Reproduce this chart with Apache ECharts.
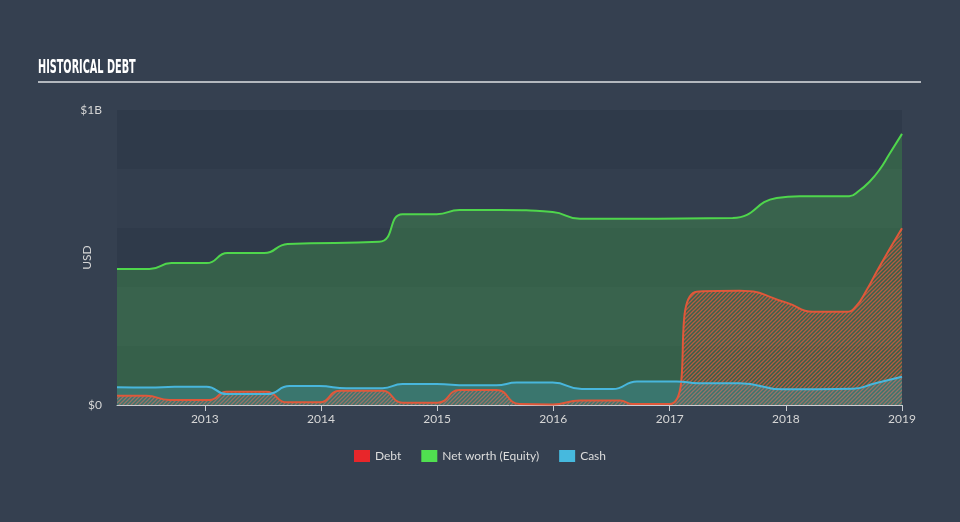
<!DOCTYPE html>
<html><head><meta charset="utf-8">
<script src="https://cdn.jsdelivr.net/npm/echarts@6/dist/echarts.min.js"></script>
<style>html,body{margin:0;padding:0;background:#354050;}#c{width:960px;height:522px;}</style>
</head><body><div id="c"></div>
<script>
// ---- data (USD millions) ----
const xTickLabels = ['2013','2014','2015','2016','2017','2018','2019'];
const yTickLabels = [[0, '$0'], [1000, '$1B']];
const seriesNames = ['Debt', 'Net worth (Equity)', 'Cash'];

const equityDates = ['2012-03-31','2012-07-11','2012-09-18','2013-01-07','2013-03-13','2013-07-07','2013-09-18','2014-07-03','2014-09-14','2014-12-31','2015-03-12','2015-07-16','2015-12-30','2016-03-25','2017-07-18','2017-12-03','2018-02-14','2018-07-19','2018-08-20','2018-09-21','2018-10-22','2018-11-22','2019-01-01'];
const equityValues = [461,461,481,481,515,515,546,553,647,647,661,661,654,631,634,702,708,708,727,757,797,850,919];

const debtDates = ['2012-03-31','2012-07-01','2012-09-12','2013-01-16','2013-03-10','2013-07-14','2013-09-15','2013-12-27','2014-03-01','2014-07-13','2014-09-14','2015-01-03','2015-03-12','2015-07-06','2015-09-17','2015-12-30','2016-03-25','2016-07-28','2016-09-07','2017-01-01','2017-03-27','2017-08-09','2018-01-03','2018-03-26','2018-07-10','2018-08-10','2018-09-12','2018-10-22','2019-01-01'];
const debtValues = [31,31,17,17,45,45,9,9,48,48,8,8,51,51,3,2,15,15,3,3,384,387,347,316,316,335,390,469,599];

const cashDates = ['2012-03-31','2012-07-11','2012-09-28','2013-01-07','2013-03-10','2013-07-17','2013-09-24','2013-12-27','2014-03-22','2014-07-13','2014-09-14','2014-12-31','2015-04-04','2015-07-06','2015-09-08','2015-12-30','2016-03-31','2016-07-06','2016-09-20','2017-01-23','2017-03-31','2017-08-09','2017-12-22','2018-07-30','2018-10-06','2019-01-01'];
const cashValues = [60,59,62,62,37,37,64,64,57,57,71,71,67,67,76,76,54,54,80,80,74,74,53,55,73,96];

const xMin = '2012-03-31', xMax = '2019-01-01';

// ---- helpers ----
function pairs(d, v) { return d.map((x, i) => [x, v[i]]); }
function hatch(color) {
  const c = document.createElement('canvas'); c.width = 4; c.height = 4;
  const g = c.getContext('2d'); g.strokeStyle = color; g.lineWidth = 1.3;
  g.beginPath();
  g.moveTo(0, 4); g.lineTo(4, 0);
  g.moveTo(-1, 1); g.lineTo(1, -1);
  g.moveTo(3, 5); g.lineTo(5, 3);
  g.stroke();
  return c;
}
const yLabelMap = {}; yTickLabels.forEach(p => yLabelMap[p[0]] = p[1]);
const xTickValues = xTickLabels.map(y => +new Date(y + '-01-01T00:00:00'));

const chart = echarts.init(document.getElementById('c'), null, {renderer: 'canvas'});
const font = 'Lato, "Open Sans", sans-serif';
chart.setOption({
  animation: false,
  backgroundColor: '#354050',
  graphic: [
    {type: 'text', x: 38, y: 58, scaleX: 0.54, style: {text: 'HISTORICAL DEBT', font: 'bold 20px "DejaVu Sans Condensed", "DejaVu Sans"', fill: '#ffffff', textVerticalAlign: 'top'}},
    {type: 'line', shape: {x1: 38, y1: 82, x2: 921, y2: 82}, style: {stroke: '#b3b8be', lineWidth: 2}}
  ],
  legend: {
    data: seriesNames, bottom: 55, left: 'center', icon: 'rect', itemWidth: 16, itemHeight: 12, itemGap: 20,
    textStyle: {color: '#dcdcdc', fontSize: 12, fontFamily: font}
  },
  grid: {left: 117, right: 58, top: 110, bottom: 117},
  xAxis: {
    type: 'time', min: xMin, max: xMax,
    axisLine: {lineStyle: {color: '#c9cdd2', width: 1}},
    axisTick: {show: true, length: 6, lineStyle: {color: '#c9cdd2'}, customValues: xTickValues},
    axisLabel: {color: '#d6d6d6', fontSize: 12, fontFamily: font, formatter: '{yyyy}', customValues: xTickValues, margin: 8},
    splitLine: {show: false}
  },
  yAxis: {
    type: 'value', min: 0, max: 1000, interval: 200,
    name: 'USD', nameLocation: 'middle', nameGap: 24, nameRotate: 90, nameMoveOverlap: false,
    nameTextStyle: {color: '#d6d6d6', fontSize: 12, fontFamily: font},
    axisLine: {show: false}, axisTick: {show: false},
    axisLabel: {color: '#d6d6d6', fontSize: 12, fontFamily: font, margin: 15, formatter: v => (yLabelMap[v] !== undefined ? yLabelMap[v] : '')},
    splitLine: {show: false},
    splitArea: {show: true, areaStyle: {color: ['#2f3a4a', '#333e4e']}}
  },
  series: [
    {
      name: seriesNames[1], type: 'line', smooth: 0.5, symbol: 'none',
      data: pairs(equityDates, equityValues),
      itemStyle: {color: '#50e050'},
      lineStyle: {color: '#4fd64c', width: 2},
      areaStyle: {color: 'rgba(76,211,74,0.25)', opacity: 1}
    },
    {
      name: seriesNames[0], type: 'line', smooth: 0.5, symbol: 'none',
      data: pairs(debtDates, debtValues),
      itemStyle: {color: '#e8262a'},
      lineStyle: {color: '#e0583a', width: 2},
      areaStyle: {color: {image: hatch('rgba(214,90,62,0.8)'), repeat: 'repeat'}, opacity: 1}
    },
    {
      name: seriesNames[2], type: 'line', smooth: 0.5, symbol: 'none',
      data: pairs(cashDates, cashValues),
      itemStyle: {color: '#46b9de'},
      lineStyle: {color: '#48b6dc', width: 2},
      areaStyle: {color: 'rgba(72,182,220,0.25)', opacity: 1}
    }
  ]
});
</script></body></html>
